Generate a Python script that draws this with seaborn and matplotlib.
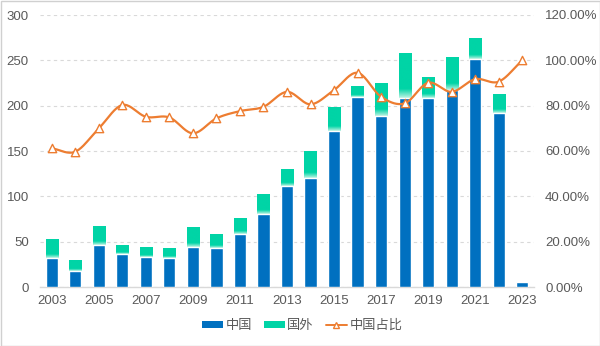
import numpy as np
import pandas as pd
import matplotlib
matplotlib.use("Agg")
import matplotlib.pyplot as plt
from matplotlib.colors import LinearSegmentedColormap
from matplotlib.patches import Rectangle
from matplotlib.lines import Line2D
from matplotlib.ticker import FuncFormatter, MultipleLocator
import seaborn as sns

years = [str(y) for y in range(2003, 2024)]
china = [32, 18, 46, 36, 33, 32, 44, 43, 58, 81, 111, 120, 172, 210, 189, 208, 208, 217, 252, 192, 6]
foreign = [20, 12, 20, 9, 11, 11, 21, 15, 17, 21, 18, 29, 26, 12, 36, 49, 23, 36, 23, 20, 0]
china_share = [61.2, 59.7, 70.0, 80.3, 75.1, 74.8, 67.8, 74.4, 77.6, 79.5, 86.1, 80.6,
               86.9, 94.5, 83.9, 81.0, 90.1, 86.1, 91.7, 90.6, 100.0]

BLUE = "#0070C0"
GREEN = "#00D4A6"
PALE = "#B9F2E2"
ORANGE = "#ED7D31"
TEXT = "#595959"
GRID = "#D9D9D9"

sns.set_theme(style="white")
plt.rcParams["font.family"] = ["Liberation Sans", "Noto Sans CJK SC", "DejaVu Sans"]

df = pd.DataFrame({"year": years, "china": china, "foreign": foreign})
df["total"] = df["china"] + df["foreign"]

W, H = 600, 346
fig = plt.figure(figsize=(W / 100, H / 100), dpi=100)
fig.patch.set_facecolor("white")
ax = fig.add_axes([40 / W, (H - 287) / H, 494 / W, 272 / H])

bar_w = 0.52
sns.barplot(data=df, x="year", y="total", color=GREEN, saturation=1, width=bar_w,
            ax=ax, zorder=2)
n_green = len(ax.patches)
sns.barplot(data=df, x="year", y="china", color=BLUE, saturation=1, width=bar_w,
            ax=ax, zorder=3)

# pale fade at the base of each overseas segment
fade = LinearSegmentedColormap.from_list("fade", [(0, PALE), (0.2, GREEN), (1, GREEN)])
grad = np.linspace(0, 1, 64).reshape(-1, 1)
for p, c, t in zip(ax.patches[:n_green], df["china"], df["total"]):
    if t - c <= 0:
        continue
    x0 = p.get_x()
    ax.imshow(grad, extent=(x0, x0 + p.get_width(), c, t), origin="lower",
              cmap=fade, aspect="auto", zorder=2.5, interpolation="bilinear")

ax.set_xlim(-0.5, 20.5)
ax.set_ylim(0, 300)
ax.yaxis.set_major_locator(MultipleLocator(50))
ax.set_xticks(range(0, 21, 2))
ax.set_xticklabels(years[::2])
ax.set_xlabel("")
ax.set_ylabel("")
ax.grid(axis="y", color=GRID, linestyle=(0, (3, 3)), linewidth=0.8, zorder=0)
ax.set_axisbelow(True)
for s in ["top", "right", "left"]:
    ax.spines[s].set_visible(False)
ax.spines["bottom"].set_color(GRID)
ax.spines["bottom"].set_linewidth(1)
ax.tick_params(axis="both", length=0, labelsize=9.5, colors=TEXT)
ax.tick_params(axis="x", pad=6)
ax.tick_params(axis="y", pad=8)

# share of China on the right axis, drawn as a smooth curve
ax2 = ax.twinx()
xs = np.arange(len(years), dtype=float)
ys = np.array(china_share) / 100.0
pts = np.column_stack([xs, ys])
ext = np.vstack([2 * pts[0] - pts[1], pts, 2 * pts[-1] - pts[-2]])
curve = []
tt = np.linspace(0, 1, 20, endpoint=False)
for i in range(1, len(ext) - 2):
    p0, p1, p2, p3 = ext[i - 1], ext[i], ext[i + 1], ext[i + 2]
    for t in tt:
        t2, t3 = t * t, t * t * t
        curve.append(0.5 * ((2 * p1) + (-p0 + p2) * t + (2 * p0 - 5 * p1 + 4 * p2 - p3) * t2
                            + (-p0 + 3 * p1 - 3 * p2 + p3) * t3))
curve.append(pts[-1])
curve = np.array(curve)
ax2.plot(curve[:, 0], curve[:, 1], color=ORANGE, linewidth=1.6, zorder=4)
sns.scatterplot(x=xs, y=ys, marker="^", s=36, facecolor="white", edgecolor=ORANGE,
                linewidth=1.0, ax=ax2, zorder=5)
ax2.set_ylim(0, 1.2)
ax2.yaxis.set_major_locator(MultipleLocator(0.2))
ax2.yaxis.set_major_formatter(FuncFormatter(lambda v, _: f"{v * 100:.2f}%"))
for s in ax2.spines.values():
    s.set_visible(False)
ax2.tick_params(axis="y", length=0, labelsize=9.5, colors=TEXT, pad=8)
ax2.grid(False)

handles = [
    Rectangle((0, 0), 1, 1, facecolor=BLUE, edgecolor="none"),
    Rectangle((0, 0), 1, 1, facecolor=GREEN, edgecolor="none"),
    Line2D([], [], color=ORANGE, marker="^", markerfacecolor="white",
           markeredgecolor=ORANGE, markersize=5, linewidth=1.4),
]
fig.legend(handles, ["中国", "国外", "中国占比"], loc="center", bbox_to_anchor=(302 / W, 1 - 326 / H),
           ncol=3, frameon=False, fontsize=9.5, labelcolor=TEXT, handlelength=1.6,
           handleheight=0.35, handletextpad=0.2, columnspacing=0.9)

fig.add_artist(Rectangle((0.5 / W, 0.5 / H), 1 - 1 / W, 1 - 1 / H, transform=fig.transFigure,
                         fill=False, edgecolor="#D0D0D0", linewidth=1))

fig.savefig("out.png", dpi=100)
